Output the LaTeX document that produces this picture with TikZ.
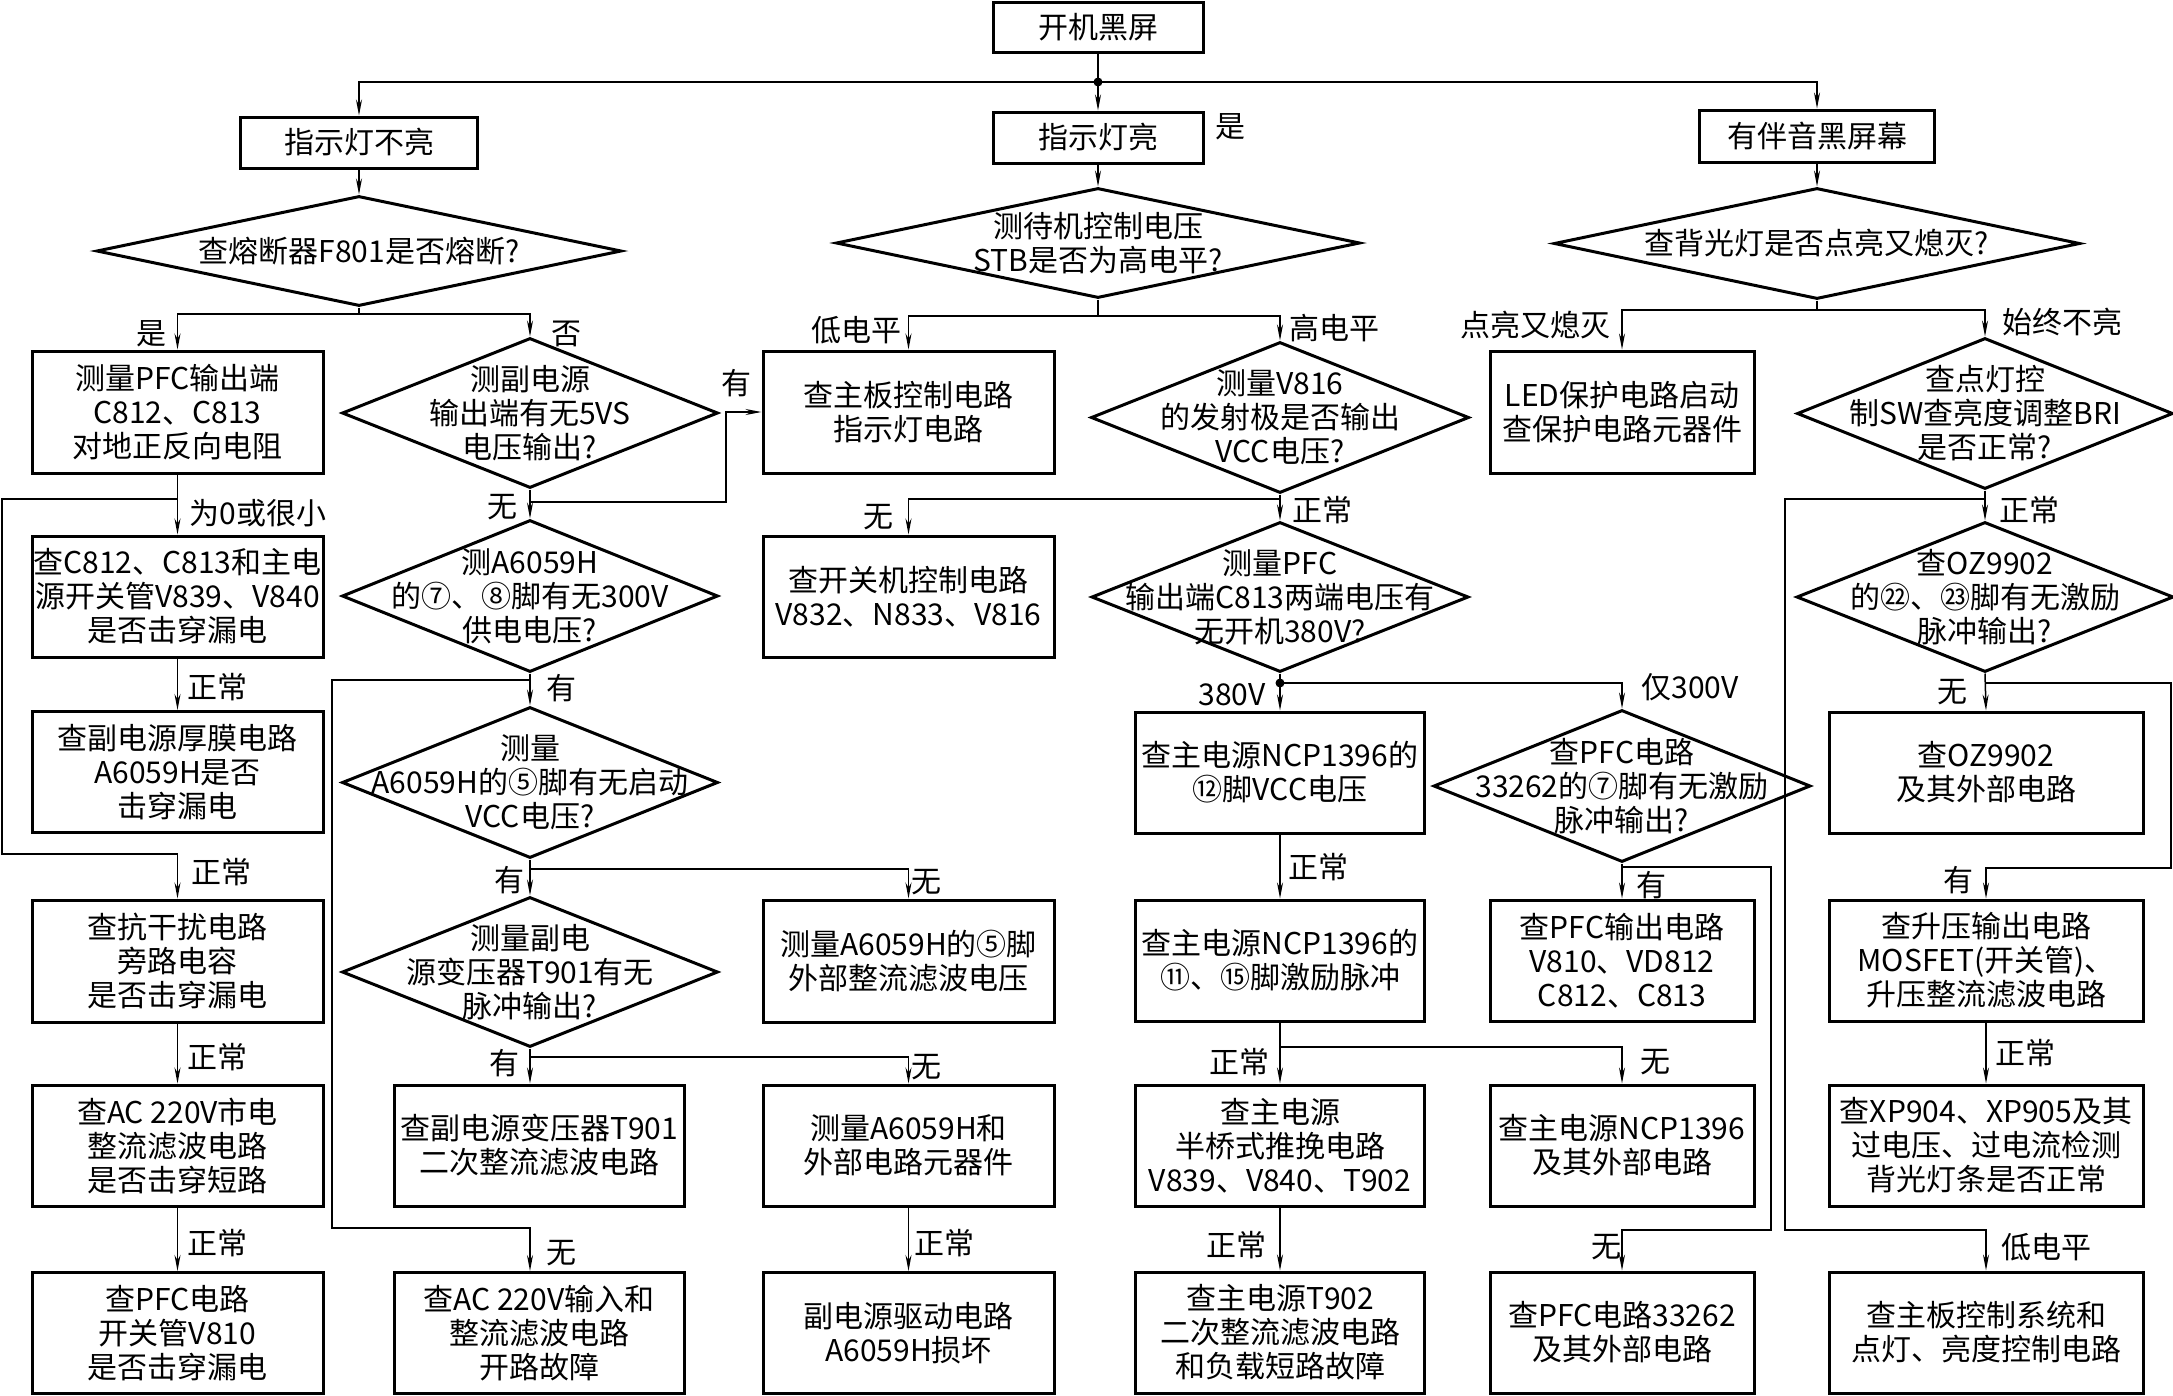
\documentclass[tikz,border=0pt]{standalone}
\usepackage{fontspec}
\setmainfont{Noto Sans CJK SC}
\usetikzlibrary{shapes.geometric,arrows.meta}
\begin{document}
\begin{tikzpicture}[x=1pt,y=-1pt,
  every node/.style={font=\fontsize{30}{34}\selectfont},
  box/.style={draw,line width=3pt,inner sep=0pt,align=center,minimum width=291pt,minimum height=121pt},
  dia/.style={draw,diamond,line width=3pt,inner sep=0pt,minimum width=376pt,minimum height=151pt},
  txt/.style={align=center,inner sep=0pt},
  conn/.style={line width=1.5pt},
  arr/.style={conn,-{Stealth[length=16pt,width=6pt]}},
  lab/.style={inner sep=0pt},
  dot/.style={circle,fill,inner sep=0pt,minimum size=9pt}
]
\useasboundingbox (0,0) rectangle (2173,1395);
\fill[white] (0,0) rectangle (2173,1395);

% ---------- top ----------
\node[box,minimum width=210pt,minimum height=50pt] (n0) at (1098,27) {开机黑屏};
\node[box,minimum width=237pt,minimum height=51pt] (n1) at (359,142.5) {指示灯不亮};
\node[box,minimum width=210pt,minimum height=51pt] (n2) at (1098,137.5) {指示灯亮};
\node[box,minimum width=235pt,minimum height=52pt] (n3) at (1817,136) {有伴音黑屏幕};
\node[lab] (lshi) at (1230,127) {是};

\node[dia,minimum width=525pt,minimum height=110pt] (d1) at (359,251) {};
\node[txt] (d1t) at (d1) {查熔断器F801是否熔断?};
\node[dia,minimum width=524pt,minimum height=110pt] (d2) at (1098,243) {};
\node[txt] (d2t) at (d2) {测待机控制电压\\STB是否为高电平?};
\node[dia,minimum width=526pt,minimum height=111pt] (d3) at (1817,243.5) {};
\node[txt] (d3t) at (d3) {查背光灯是否点亮又熄灭?};

% ---------- row 2 ----------
\node[box,minimum height=122pt] (b1) at (177.5,412) {测量PFC输出端\\C812、C813\\对地正反向电阻};
\node[dia,minimum height=150pt] (d4) at (530,413) {};
\node[txt] (d4t) at (d4) {测副电源\\输出端有无5VS\\电压输出?};
\node[box,minimum height=122pt] (b5) at (908.5,412) {查主板控制电路\\指示灯电路};
\node[dia,minimum width=378pt] (d6) at (1280,417.5) {};
\node[txt] (d6t) at (d6) {测量V816\\的发射极是否输出\\VCC电压?};
\node[box,minimum width=264pt,minimum height=122pt] (b9) at (1622,412) {LED保护电路启动\\查保护电路元器件};
\node[dia] (d7) at (1985,413.5) {};
\node[txt] (d7t) at (d7) {查点灯控\\制SW查亮度调整BRI\\是否正常?};

% ---------- row 3 ----------
\node[box] (b2) at (177.5,596.5) {查C812、C813和主电\\源开关管V839、V840\\是否击穿漏电};
\node[dia,minimum height=152pt] (d5) at (530,596) {};
\node[txt] (d5t) at (d5) {测A6059H\\的⑦、⑧脚有无300V\\供电电压?};
\node[box] (b6) at (908.5,596.5) {查开关机控制电路\\V832、N833、V816};
\node[dia,minimum width=377pt,minimum height=150pt] (d8) at (1280,597) {};
\node[txt] (d8t) at (d8) {测量PFC\\输出端C813两端电压有\\无开机380V?};
\node[dia,minimum width=377pt,minimum height=150pt] (d10) at (1985,597) {};
\node[txt] (d10t) at (d10) {查OZ9902\\的㉒、㉓脚有无激励\\脉冲输出?};

% ---------- row 4 ----------
\node[box] (b3) at (177.5,772) {查副电源厚膜电路\\A6059H是否\\击穿漏电};
\node[dia] (d11) at (530,782.5) {};
\node[txt] (d11t) at (d11) {测量\\A6059H的⑤脚有无启动\\VCC电压?};
\node[box,minimum width=289pt] (b7) at (1280,772.5) {查主电源NCP1396的\\⑫脚VCC电压};
\node[dia,minimum width=377pt,minimum height=152pt] (d12) at (1622,786) {};
\node[txt] (d12t) at (d12) {查PFC电路\\33262的⑦脚有无激励\\脉冲输出?};
\node[box,minimum width=314pt] (b10) at (1986,772.5) {查OZ9902\\及其外部电路};

% ---------- row 5 ----------
\node[box,minimum height=122pt] (b4) at (177.5,961) {查抗干扰电路\\旁路电容\\是否击穿漏电};
\node[dia,minimum height=150pt] (d13) at (530,972) {};
\node[txt] (d13t) at (d13) {测量副电\\源变压器T901有无\\脉冲输出?};
\node[box,minimum height=122pt] (b8) at (908.5,961) {测量A6059H的⑤脚\\外部整流滤波电压};
\node[box,minimum width=289pt] (b12) at (1280,960.5) {查主电源NCP1396的\\⑪、⑮脚激励脉冲};
\node[box,minimum width=264pt] (b13) at (1622,960.5) {查PFC输出电路\\V810、VD812\\C812、C813};
\node[box,minimum width=314pt] (b11) at (1986,960.5) {查升压输出电路\\MOSFET(开关管)、\\升压整流滤波电路};

% ---------- row 6 ----------
\node[box] (b15) at (177.5,1145.5) {查AC 220V市电\\整流滤波电路\\是否击穿短路};
\node[box,minimum width=290pt] (b16) at (539,1145.5) {查副电源变压器T901\\二次整流滤波电路};
\node[box] (b17) at (908.5,1145.5) {测量A6059H和\\外部电路元器件};
\node[box,minimum width=289pt] (b19) at (1280,1145.5) {查主电源\\半桥式推挽电路\\V839、V840、T902};
\node[box,minimum width=264pt] (b20) at (1622,1145.5) {查主电源NCP1396\\及其外部电路};
\node[box,minimum width=314pt] (b21) at (1986,1145.5) {查XP904、XP905及其\\过电压、过电流检测\\背光灯条是否正常};

% ---------- row 7 ----------
\node[box] (b22) at (177.5,1333) {查PFC电路\\开关管V810\\是否击穿漏电};
\node[box,minimum width=290pt] (b14) at (539,1333) {查AC 220V输入和\\整流滤波电路\\开路故障};
\node[box] (b23) at (908.5,1333) {副电源驱动电路\\A6059H损坏};
\node[box,minimum width=289pt] (b24) at (1280,1332.5) {查主电源T902\\二次整流滤波电路\\和负载短路故障};
\node[box,minimum width=264pt] (b18) at (1622,1332.5) {查PFC电路33262\\及其外部电路};
\node[box,minimum width=314pt] (b25) at (1986,1332.5) {查主板控制系统和\\点灯、亮度控制电路};

% ================= connectors =================
% top
\coordinate (j0) at (1098,82);
\draw[conn] (n0.south) -- (j0);
\draw[arr] (j0) -- (n2.north);
\draw[arr] (j0) -| (n1.north);
\draw[arr] (j0) -| (n3.north);
\node[dot] (j0d) at (j0) {};
\draw[arr] (n1.south) -- (d1.north);
\draw[arr] (n2.south) -- (d2.north);
\draw[arr] (n3.south) -- (d3.north);

% d1 fork
\coordinate (f1) at (359,314);
\draw[conn] (d1.south) -- (f1);
\draw[arr] (f1) -| (b1.north);
\draw[arr] (f1) -| (d4.north);
\node[lab] (l1) at (151,334) {是};
\node[lab] (l2) at (566,334) {否};

% d2 fork
\coordinate (f2) at (1098,316);
\draw[conn] (d2.south) -- (f2);
\draw[arr] (f2) -| (b5.north);
\draw[arr] (f2) -| (d6.north);
\node[lab] (l3) at (856,330) {低电平};
\node[lab] (l4) at (1334,328) {高电平};

% d3 fork
\coordinate (f3) at (1817,310);
\draw[conn] (d3.south) -- (f3);
\draw[arr] (f3) -| (b9.north);
\draw[arr] (f3) -| (d7.north);
\node[lab] (l5) at (1535,325) {点亮又熄灭};
\node[lab] (l6) at (2062,322) {始终不亮};

% column 1
\draw[arr] (b1.south) -- (b2.north);
\node[lab] (l7) at (258,513) {为0或很小};
\coordinate (f4) at (177.5,499);
\draw[arr] (f4) -- (2,499) -- (2,854) -- (177.5,854) -- (b4.north);
\node[lab] (l8) at (221,872) {正常};
\draw[arr] (b2.south) -- (b3.north);
\node[lab] (l9) at (217,687) {正常};
\draw[arr] (b4.south) -- (b15.north);
\node[lab] (l10) at (217,1057) {正常};
\draw[arr] (b15.south) -- (b22.north);
\node[lab] (l11) at (217,1243) {正常};

% d4
\draw[arr] (d4.south) -- (d5.north);
\node[lab] (l12) at (502,507) {无};
\coordinate (f5) at (530,502);
\draw[arr] (f5) -- (726,502) -- (726,412) -- (b5.west);
\node[lab] (l13) at (736,383) {有};

% d6
\draw[arr] (d6.south) -- (d8.north);
\node[lab] (l14) at (1322,510) {正常};
\coordinate (f6) at (1280,499);
\draw[arr] (f6) -| (b6.north);
\node[lab] (l15) at (878,517) {无};

% d7
\draw[arr] (d7.south) -- (d10.north);
\node[lab] (l16) at (2029,510) {正常};
\coordinate (f7) at (1985,499);
\draw[arr] (f7) -- (1785,499) -- (1785,1230) -| (b25.north);
\node[lab] (l17) at (2046,1247) {低电平};

% d5
\draw[arr] (d5.south) -- (d11.north);
\node[lab] (l18) at (561,688) {有};
\coordinate (f8) at (530,680);
\coordinate (f8b) at (530,1228);
\draw[arr] (f8) -- (332,680) -- (332,1228) -- (f8b) -- (f8b |- b14.north);
\node[lab] (l19) at (561,1253) {无};

% d8
\coordinate (f9) at (1280,683);
\draw[arr] (d8.south) -- (b7.north);
\draw[arr] (f9) -| (d12.north);
\node[dot] (f9d) at (f9) {};
\node[lab] (l20) at (1232,695) {380V};
\node[lab] (l21) at (1690,687) {仅300V};

% d10
\draw[arr] (d10.south) -- (b10.north);
\node[lab] (l22) at (1952,692) {无};
\coordinate (f10) at (1985,683);
\draw[arr] (f10) -- (2171,683) -- (2171,868) -| (b11.north);
\node[lab] (l23) at (1958,880) {有};

% d11
\coordinate (f11) at (530,869);
\draw[conn] (d11.south) -- (f11);
\draw[arr] (f11) -- (d13.north);
\draw[arr] (f11) -| (b8.north);
\node[lab] (l24) at (509,880) {有};
\node[lab] (l25) at (926,882) {无};

% b7 -> b12
\draw[arr] (b7.south) -- (b12.north);
\node[lab] (l26) at (1318,867) {正常};

% d12
\draw[arr] (d12.south) -- (b13.north);
\node[lab] (l27) at (1651,885) {有};
\coordinate (f12) at (1622,867);
\draw[arr] (f12) -- (1771,867) -- (1771,1230) -| (b18.north);
\node[lab] (l28) at (1606,1247) {无};

% d13
\coordinate (f13) at (530,1057);
\draw[conn] (d13.south) -- (f13);
\draw[arr] (f13) -- (f13 |- b16.north);
\draw[arr] (f13) -| (b17.north);
\node[lab] (l29) at (504,1063) {有};
\node[lab] (l30) at (926,1067) {无};

% b12
\coordinate (f14) at (1280,1047);
\draw[conn] (b12.south) -- (f14);
\draw[arr] (f14) -- (b19.north);
\draw[arr] (f14) -| (b20.north);
\node[lab] (l31) at (1239,1062) {正常};
\node[lab] (l32) at (1655,1062) {无};

% b11 -> b21
\draw[arr] (b11.south) -- (b21.north);
\node[lab] (l33) at (2025,1053) {正常};

% b17 -> b23, b19 -> b24
\draw[arr] (b17.south) -- (b23.north);
\node[lab] (l34) at (944,1243) {正常};
\draw[arr] (b19.south) -- (b24.north);
\node[lab] (l35) at (1236,1245) {正常};
\end{tikzpicture}
\end{document}
